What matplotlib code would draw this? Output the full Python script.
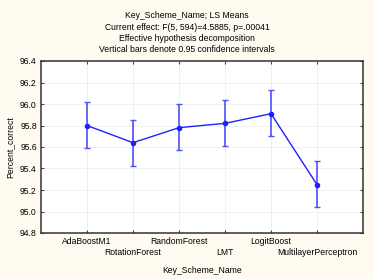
import numpy as np
import matplotlib
matplotlib.use("Agg")
import matplotlib.pyplot as plt

plt.rcParams['font.family'] = ['Liberation Sans', 'DejaVu Sans']

schemes = ["AdaBoostM1", "RotationForest", "RandomForest", "LMT",
           "LogitBoost", "MultilayerPerceptron"]
means = [95.80, 95.64, 95.78, 95.82, 95.91, 95.25]
ci_low = [95.59, 95.42, 95.57, 95.61, 95.70, 95.04]
ci_high = [96.02, 95.85, 96.00, 96.04, 96.13, 95.47]
yticks = [94.8, 95.0, 95.2, 95.4, 95.6, 95.8, 96.0, 96.2, 96.4]

titles = ["Key_Scheme_Name; LS Means",
          "Current effect: F(5, 594)=4.5885, p=.00041",
          "Effective hypothesis decomposition",
          "Vertical bars denote 0.95 confidence intervals"]

fig = plt.figure(figsize=(3.74, 2.79), dpi=100, facecolor='#fffbf0')
ax = fig.add_axes([41/374, 1 - 233/279, 322/374, 172/279])
ax.set_facecolor('white')

x = np.arange(len(schemes))
m = np.array(means)
err = [m - np.array(ci_low), np.array(ci_high) - m]
ax.errorbar(x, m, yerr=err, color='#2020ff', ecolor='#5050ff', elinewidth=1.2,
            capsize=2.5, capthick=1, lw=1, marker='o', ms=3, zorder=3)

ax.set_xlim(-1, len(schemes))
ax.set_ylim(94.8, 96.4)
ax.set_yticks(yticks)
ax.set_yticklabels([f"{v:.1f}" for v in yticks], fontsize=6.2)

# labels staggered on two rows: even ones on major ticks, odd ones on minor ticks
ax.set_xticks(x[::2])
ax.set_xticklabels(schemes[::2], fontsize=6.2)
ax.set_xticks(x[1::2], minor=True)
ax.set_xticklabels(schemes[1::2], minor=True, fontsize=6.2)

ax.grid(True, which='both', axis='x', color='#eeeeee', lw=0.6)
ax.grid(True, axis='y', color='#eeeeee', lw=0.6)
ax.set_axisbelow(True)
ax.tick_params(axis='both', which='both', direction='in', length=2, width=0.8,
               top=True, right=True, color='#444444')
ax.tick_params(axis='x', which='major', pad=3)
ax.tick_params(axis='x', which='minor', pad=11)
ax.tick_params(axis='y', pad=3)
for s in ax.spines.values():
    s.set_linewidth(1.1)
    s.set_color('#333333')

ax.set_ylabel("Percent_correct", fontsize=6.2, labelpad=4)
ax.set_xlabel("Key_Scheme_Name", fontsize=6.2, labelpad=6)

for i, t in enumerate(titles):
    fig.text(0.5, 1 - (15.5 + 11.5 * i) / 279, t, ha='center', va='center', fontsize=6.2)

fig.savefig("out.png", dpi=100, facecolor=fig.get_facecolor())
